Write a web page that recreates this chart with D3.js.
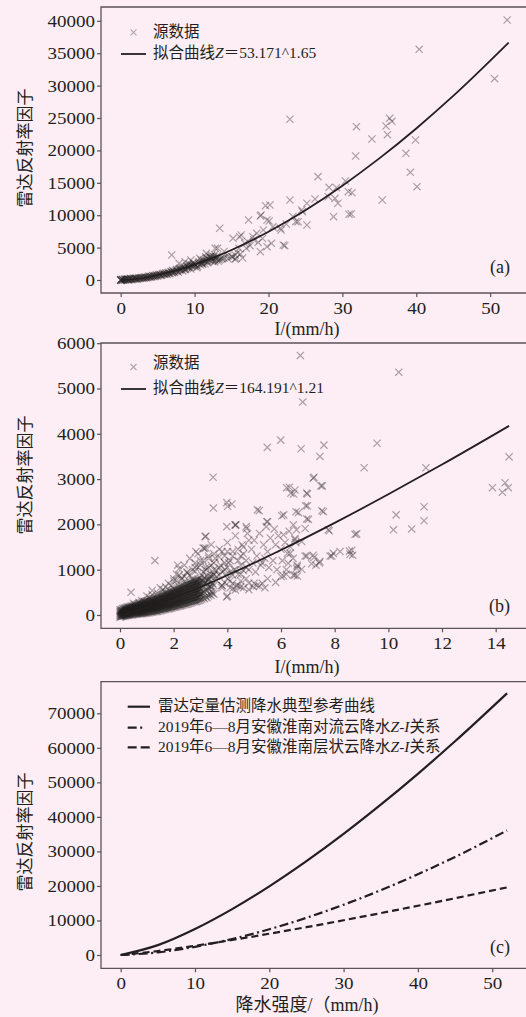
<!DOCTYPE html>
<html>
<head>
<meta charset="utf-8">
<script src="https://cdn.jsdelivr.net/npm/d3@7"></script>
<style>
  body { margin: 0; background: #fdedf4; }
  svg { display: block; }
  text { fill: #231f20; }
  .tick line { stroke: #5b5358; stroke-width: 1.2; }
  .cjk { font-family: "Liberation Serif", "Noto Sans CJK SC", serif; }
</style>
</head>
<body>
<svg id="chart" width="526" height="1017"></svg>
<script>
// ---- panel (a): source data & fitted curve Z = 53.171 I^1.65
const aTicksX = [0, 10, 20, 30, 40, 50];
const aTicksY = [0, 5000, 10000, 15000, 20000, 25000, 30000, 35000, 40000];
const aFitI = [0, 1, 2, 3.5, 5, 7.5, 10, 15, 20, 25, 30, 35, 40, 45, 52.5];
const aFitZ = [0, 53, 167, 420, 757, 1470, 2375, 4637, 7453, 10772, 14558, 18766, 23389, 28403, 36630];
const aPoints = [
  [52.3,40120],[40.4,35600],[50.6,31070],[22.9,24800],[36.4,24950],
  [31.9,23660],[35.9,23770],[36.7,24490],[34.0,21760],[36.1,22430],[39.9,21600],[31.8,19140],[38.6,19550],
  [39.2,16620],[40.1,14400],[35.4,12350],[26.7,15950],[30.4,15280],[29.2,14250],[28.2,14300],[30.8,13630],
  [31.3,13470],[29.0,12600],[29.4,11840],[28.8,9770],[30.9,10140],[31.2,10190],[28.1,12860],
  [26.3,12500],[25.2,11840],[24.5,10800],[22.9,12350],[25.2,8490],[23.7,9000],[22.4,8640],[24.0,9000],[24.6,10540],[23.3,9800],
  [20.2,11570],[19.6,11470],[18.9,9880],[19.8,9260],[17.3,9260],[21.6,7980],[22.0,5400],[22.2,5300],[19.8,5140],
  [18.9,4370],[20.4,5660],[17.0,4890],[20.1,9100],[19.0,10030],[21.7,7720],[20.6,8200],[19.2,6400],[18.6,5800],
  [13.4,7980],[15.2,6430],[16.1,6690],[17.9,6690],[18.4,7200],[19.3,7720],[16.8,5660],[15.5,3860],[15.1,3600],
  [12.8,4890],[11.6,4120],[6.9,3860],[8.7,2830],[10.7,3350],[12.1,3600],[16.3,6940],[17.2,5910],[15.6,3350],
  [13.1,4890],[12.7,3860],[11.5,3600],[10.9,3090],[9.5,3090],[7.9,2570],[14.0,4400],[14.5,3700],[16.0,4900],
  [17.5,5300],[18.0,6200],[13.8,3300],[12.4,2900],[11.0,2600],[9.8,2300],[9.2,1900],
  [0,0],[0,0],[0,0],[0.05,60],[0.1,-100],[0.2,100],[0.3,50],[0.5,-50],[0.5,150],[0.7,60],[0.8,200],[1,20],[1,150],
  [1.2,100],[1.3,250],[1.5,60],[1.6,200],[1.8,300],[2,120],[2,260],[2.2,180],[2.4,350],[2.5,220],[2.7,300],
  [2.9,420],[3,250],[3.1,380],[3.3,500],[3.5,320],[3.6,450],[3.8,600],[4,420],[4.1,560],[4.3,700],[4.5,520],
  [4.6,650],[4.8,800],[5,600],[5.1,760],[5.3,900],[5.5,700],[5.6,850],[5.8,1050],[6,900],[6.1,1100],[6.3,850],
  [6.5,1200],[6.7,1000],[6.8,1300],[7,1100],[7,1500],[7.2,1250],[7.4,1400],[7.6,1650],[7.8,1200],[8,1500],
  [8,1800],[8.2,1700],[8.4,1400],[8.6,2000],[8.8,1650],[9,2200],[9,1800],[9.2,2500],[9.3,2000],[9.5,1700],
  [9.6,2300],[9.8,2700],[10,2100],[10,2400],[10.3,1900],[10.5,2600],[10.8,2300],[11,2800],[11.2,3100],
  [11.4,2500],[11.6,3400],[11.8,2800],[12,3600],[12.1,3000],[12.3,3800],[12.5,3300],[12.7,2800],[13,3500],
  [13.2,2900],[13.5,3200],[14,3400],[14.5,3300],[15,3600],[15.5,3200],[15.8,4200],[16.2,4000],[16.5,3400],
  [0.3,0],[0.6,100],[0.9,80],[1.1,60],[1.4,150],[1.7,120],[1.9,200],[2.1,250],[2.3,150],[2.6,280],[2.8,350],
  [3.2,330],[3.4,400],[3.7,380],[3.9,500],[4.2,480],[4.4,620],[4.7,600],[4.9,700],[5.2,800],[5.4,750],[5.7,950],
  [5.9,850],[6.2,1000],[6.4,1100],[6.6,950],[6.9,1250],[7.1,1350],[7.3,1150],[7.5,1500],[7.7,1400],[7.9,1700],
  [8.1,1600],[8.3,1900],[8.5,1750],[8.7,1600],[8.9,2100],[9.1,2000],[9.4,2300],[9.7,2100],[9.9,2500],[10.2,2300],
  [10.4,2100],[10.6,2800],[10.9,2600],[11.1,2400],[11.3,2900],[11.5,3000],[11.7,2700],[11.9,3200],[12.2,3400],
  [12.4,3100],[12.6,3600],[12.8,3000],[12.9,3300],[13.1,3700],[13.3,3100],[13.6,3400]
];

// ---- panel (b): source data & fitted curve Z = 164.191 I^1.21
const bTicksX = [0, 2, 4, 6, 8, 10, 12, 14];
const bTicksY = [0, 1000, 2000, 3000, 4000, 5000, 6000];
const bFitI = [0, 0.5, 1, 2, 3, 4, 6, 8, 10, 12, 14.5];
const bFitZ = [0, 71, 164, 380, 618, 878, 1435, 2033, 2664, 3320, 4174];
const bPoints = [
  [6.72,5730],[10.39,5360],[6.81,4700],[5.99,3860],[5.49,3700],[6.75,3670],[7.6,3750],[9.58,3790],[7.45,3500],
  [9.1,3250],[11.4,3250],[14.5,3490],[3.47,3040],[7.2,3020],[13.88,2810],[14.25,2710],[14.35,2920],[14.47,2810],
  [6.21,2810],[6.37,2690],[7.49,2850],[6.96,2690],[6.92,2410],[3.48,2360],[3.98,2480],[4.17,2450],[5.12,2320],
  [7.52,2300],[6.56,2280],[6.03,2190],[6.1,2210],[6.96,2120],[6.46,1990],[6.9,1910],[7.76,1880],[8.76,1780],
  [10.29,2210],[10.19,1880],[10.87,1900],[11.33,2390],[11.33,2080],[5.47,2060],[4.72,1910],[4.29,1990],[3.98,1950],
  [3.17,1730],[6.09,1770],[6.52,1690],[6.9,1300],[7.2,1320],[7.45,1180],[7.14,1130],[7.89,1300],[8.2,1400],
  [8.55,1410],[8.57,1340],[6.09,860],[6.46,880],[6.58,1030],[6.27,1140],[6.24,1360],[1.3,1200],[0.41,500],
  [4.01,2400],[5.19,2300],[6.31,2820],[6.47,2670],[4.32,1990],[5.5,2060],[3.14,1470],[2.83,1400],[2.15,1100],
  [6.52,2760],[6.98,2670],[7.23,3040],[7.54,2850],[6.65,2260],[6.98,2410],[7.02,2110],[7.58,2280],[6.58,1880],
  [7.8,1860],[8.82,1790],[6.52,1660],[6.77,1620],[6.34,1360],[6.96,1300],[7.23,1270],[7.43,1150],[7.3,1100],
  [7.83,1300],[7.95,1360],[8.64,1430],[8.67,1320],[6.61,1070],[6.77,1010],[6.52,880],[6.61,860],
  [2.0,750],[2.1,900],[2.2,1020],[2.3,820],[2.4,1100],[2.5,950],[2.6,1250],[2.7,780],[2.8,1050],[2.9,1350],
  [3.0,1200],[3.05,880],[3.1,1480],[3.2,1050],[3.3,1300],[3.35,720],[3.4,1550],[3.5,1000],[3.55,1250],[3.6,850],
  [3.7,1450],[3.75,1100],[3.8,650],[3.9,1300],[3.95,900],[4.0,1600],[4.05,1150],[4.1,750],[4.2,1400],[4.25,1000],
  [4.3,1750],[4.35,650],[4.4,1200],[4.5,900],[4.55,1550],[4.6,1350],[4.7,1050],[4.75,1800],[4.8,700],[4.9,1450],
  [4.95,1150],[5.0,1650],[5.05,950],[5.1,1300],[5.2,1800],[5.25,1100],[5.3,700],[5.35,1550],[5.4,1250],[5.45,1950],
  [5.5,1400],[5.55,1050],[5.6,1700],[5.7,1200],[5.75,1900],[5.8,1550],[5.85,1000],[5.9,1750],[6.0,1450],[6.05,1200],
  [6.15,1600],[6.2,1000],[6.3,1850],[6.35,1500],[6.45,1250],[6.55,1600],[6.6,1100],
  [3.0,450],[3.4,520],[3.8,600],[4.0,420],[4.2,580],[4.5,620],[4.8,560],[5.0,700],[5.2,640],[5.5,800],[5.8,720],
  [6.0,850],[6.2,900],[4.97,625],[3.98,400],
  [0.5,260],[0.7,280],[0.8,320],[0.9,300],[1.0,420],[1.1,380],[1.2,450],[1.2,540],[1.4,480],[1.5,600],[1.6,560],
  [1.7,620],[1.8,700],[1.9,650],[2.0,800],[2.1,760],[2.2,880],[2.3,790],[2.4,850],[2.5,930],[2.6,880],[2.7,1000],
  [2.8,960],[2.8,1150],[2.9,1050],[3.0,1100],[3.1,950],[3.1,1200],[3.2,1000],[3.2,1480],[3.2,1740],[3.3,1050],
  [3.3,1250],[3.4,850],[3.4,1100],[3.5,1150],[3.5,1350],[3.6,980],[3.7,1050],[3.7,1280],[3.8,950],[3.8,1400],
  [3.9,1000],[3.9,1150],[4.0,1050],[4.0,1400],[4.1,950],[4.1,1200],[4.2,880],[4.2,1300],[4.3,1000],[4.3,1980],
  [4.4,900],[4.4,1450],[4.5,1100],[4.5,1300],[4.6,980],[4.6,1500],[4.7,1200],[4.7,1950],[4.8,1000],[4.8,1650],
  [3.1,740],[3.2,770],[3.3,800],[3.4,640],[3.5,900],[3.6,760],[3.7,880],[3.8,650],[3.9,720],[4.0,800],[4.1,600],
  [4.2,700],[4.3,550],[4.4,650],[4.5,750],[4.6,600],[4.7,800],[5.1,650],[5.3,1150],[5.4,600]
];
// dense core of panel (b): for each I column, the Z values of the piled-up crosses
const bCoreI = [0, 0.05, 0.1, 0.15, 0.2, 0.25, 0.3, 0.35, 0.4, 0.45, 0.5, 0.55, 0.6, 0.65, 0.7, 0.75, 0.8, 0.85,
  0.9, 0.95, 1, 1.05, 1.1, 1.15, 1.2, 1.25, 1.3, 1.35, 1.4, 1.45, 1.5, 1.55, 1.6, 1.65, 1.7, 1.75, 1.8, 1.85,
  1.9, 1.95, 2, 2.05, 2.1, 2.15, 2.2, 2.25, 2.3, 2.35, 2.4, 2.45, 2.5, 2.55, 2.6, 2.65, 2.7, 2.75, 2.8, 2.85,
  2.9, 2.95, 3];
const bCoreZ = [
  [-50,-10,30,70,110],[-40,0,40,80,120],[-30,10,50,90,140],[-20,20,60,100,150],[-20,30,70,120,160],
  [-10,30,80,120,170],[-10,40,80,130,180],[0,40,90,140,180],[0,50,100,140,190],[0,50,100,150,200],
  [10,60,110,160,210],[10,60,110,170,220],[20,70,120,170,230],[20,70,130,180,240],[20,80,130,190,250],
  [30,80,140,200,260],[30,90,150,210,270],[30,90,150,220,280],[40,100,160,220,290],[40,100,170,230,300],
  [40,110,170,240,310],[50,110,180,250,320],[50,120,190,260,330],[60,130,200,270,340],[60,130,200,280,350],
  [70,140,210,290,360],[70,150,220,300,370],[80,150,230,310,390],[80,160,240,320,400],[90,170,250,330,410],
  [100,180,260,340,430],[100,180,270,350,440],[110,190,280,360,450],[120,200,290,370,460],[120,210,300,390,480],
  [130,220,310,400,490],[140,230,320,410,500],[140,240,330,420,520],[150,240,340,430,530],[160,250,350,450,540],
  [170,260,360,460,560],[170,270,370,470,570],[180,280,380,480,580],[190,290,390,490,590],[200,300,400,510,610],
  [200,310,410,520,620],[210,320,420,530,640],[220,330,430,540,650],[230,340,440,560,660],[230,350,450,570,670],
  [240,360,460,580,690],[250,370,480,590,700],[260,380,490,600,710],[270,390,500,610,720],[280,400,510,630,740],
  [290,410,520,640,750],[300,420,540,650,760],[300,430,550,660,770],[310,440,560,670,790],[320,450,570,690,800],
  [330,460,580,700,810]
];
// second pass of the core, read between the columns above, and its fading right edge
const bCore2I = [0.025, 0.075, 0.125, 0.175, 0.225, 0.275, 0.325, 0.375, 0.425, 0.475, 0.525, 0.575, 0.625,
  0.675, 0.725, 0.775, 0.825, 0.875, 0.925, 0.975, 1.025, 1.075, 1.125, 1.175, 1.225, 1.275, 1.325, 1.375,
  1.425, 1.475, 1.525, 1.575, 1.625, 1.675, 1.725, 1.775, 1.825, 1.875, 1.925, 1.975, 2.025, 2.075, 2.125,
  2.175, 2.225, 2.275, 2.325, 2.375, 2.425, 2.475, 2.525, 2.575, 2.625, 2.675, 2.725, 2.775, 2.825, 2.875,
  2.925, 2.975, 3.05, 3.1, 3.15, 3.2, 3.25, 3.3, 3.35, 3.4, 3.45, 3.5];
const bCore2Z = [
  [-30,10,50,90],[-25,15,60,100],[-15,25,65,110],[-5,35,75,125],[5,40,95,140],[5,55,100,150],[15,60,105,155],
  [20,65,115,160],[25,75,120,170],[30,80,125,175],[35,85,135,185],[40,90,140,195],[45,95,150,200],[50,100,155,210],
  [55,105,160,220],[60,115,170,230],[60,120,180,240],[65,125,185,250],[70,130,190,255],[75,135,200,265],
  [80,145,210,275],[85,150,215,285],[90,160,225,295],[95,165,235,305],[100,170,240,315],[105,180,255,325],
  [110,185,265,335],[115,195,270,350],[125,205,280,360],[135,215,295,370],[140,225,305,385],[145,235,315,395],
  [150,245,325,405],[160,255,345,420],[165,265,355,435],[175,275,365,445],[185,285,375,460],[190,290,385,475],
  [195,295,395,485],[205,305,405,500],[215,315,420,510],[225,325,425,525],[235,335,435,535],[240,345,450,550],
  [250,355,465,565],[255,365,475,580],[265,375,485,590],[275,385,500,600],[280,395,505,615],[290,405,520,630],
  [300,415,530,645],[310,425,545,655],[320,435,555,665],[330,445,570,680],[340,455,575,690],[350,470,585,700],
  [360,480,600,715],[370,495,610,725],[380,500,620,735],[390,510,635,750],
  [350,480,620,760],[380,520,660],[360,500,700,820],[400,560,720],[380,540,680,860],[420,600,780],
  [450,640,850],[430,600,900],[480,700],[460,650,880]
];

// ---- panel (c): Z-I relations
const cTicksX = [0, 10, 20, 30, 40, 50];
const cTicksY = [0, 10000, 20000, 30000, 40000, 50000, 60000, 70000];
const cI = [0, 5, 10, 15, 20, 25, 30, 35, 40, 45, 52];
const cRef = [0, 2856, 7536, 13290, 19890, 27180, 35070, 43530, 52470, 61890, 75790];
const cConv = [0, 757, 2375, 4637, 7453, 10772, 14558, 18766, 23389, 28403, 36070];
const cStrat = [0, 1151, 2664, 4350, 6161, 8069, 10065, 12127, 14252, 16436, 19574];

const svg = d3.select('#chart');
const serif = '"Liberation Serif", "Times New Roman", serif';
const crossPath = s => `M${-s},${-s}L${s},${s}M${-s},${s}L${s},${-s}`;

function drawPanel(p) {
  const x = d3.scaleLinear().domain(p.xDomain).range([101, 526]);
  const y = d3.scaleLinear().domain(p.yDomain).range([p.bottom, p.top]);
  const g = svg.append('g');

  // scatter: translucent dark crosses, they turn black where they pile up
  if (p.points) {
    g.append('g').selectAll('path')
      .data(p.points)
      .join('path')
      .attr('transform', d => `translate(${x(d[0])},${y(d[1])})`)
      .attr('d', crossPath(3.6))
      .attr('fill', 'none')
      .attr('stroke', '#231f20')
      .attr('stroke-opacity', 0.38)
      .attr('stroke-width', 1.2);
  }

  // lines
  p.lines.forEach(l => {
    const line = d3.line().x(d => x(d[0])).y(d => y(d[1])).curve(d3.curveMonotoneX);
    g.append('path')
      .attr('d', line(d3.zip(l.xs, l.ys)))
      .attr('fill', 'none')
      .attr('stroke', '#231f20')
      .attr('stroke-width', l.width || 1.8)
      .attr('stroke-dasharray', l.dash || null);
  });

  // frame: top, left, bottom
  g.append('path')
    .attr('d', `M540,${p.top}H101V${p.bottom}H540`)
    .attr('fill', 'none')
    .attr('stroke', '#5b5358')
    .attr('stroke-width', 1.3);

  const yAxis = g.append('g')
    .attr('transform', 'translate(101,0)')
    .call(d3.axisLeft(y).tickValues(p.yTicks).tickSize(4).tickPadding(2).tickFormat(d3.format('d')));
  const xAxis = g.append('g')
    .attr('transform', `translate(0,${p.bottom})`)
    .call(d3.axisBottom(x).tickValues(p.xTicks).tickSize(4).tickPadding(5).tickFormat(d3.format('d')));
  [yAxis, xAxis].forEach(ax => {
    ax.select('.domain').remove();
    ax.attr('font-family', serif).attr('font-size', 17);
    // the figure's digits are set wide: ~9.6px per digit
    ax.selectAll('.tick text')
      .attr('fill', '#231f20')
      .attr('textLength', d => String(d).length * 9.5)
      .attr('lengthAdjust', 'spacingAndGlyphs');
  });

  // y label
  g.append('text')
    .attr('class', 'cjk')
    .attr('transform', `translate(31,${p.yLabelY}) rotate(-90)`)
    .attr('text-anchor', 'middle')
    .style('font-size', '17px')
    .attr('fill', '#3b3537')
    .text('雷达反射率因子');

  // x label
  g.append('text')
    .attr('class', 'cjk')
    .attr('x', 307)
    .attr('y', p.xLabelY)
    .attr('text-anchor', 'middle')
    .style('font-size', '18px')
    .text(p.xLabel);

  // panel tag
  g.append('text')
    .attr('x', 510)
    .attr('y', p.tagY)
    .attr('text-anchor', 'end')
    .style('font-family', serif)
    .style('font-size', '18px')
    .text(p.tag);

  return g;
}

function legendText(g, xPos, yPos, parts) {
  const t = g.append('text')
    .attr('class', 'cjk')
    .attr('x', xPos)
    .attr('y', yPos)
    .attr('dy', '0.35em')
    .style('font-size', '15.5px');
  parts.forEach(s => {
    t.append('tspan').style('font-style', s.italic ? 'italic' : 'normal').text(s.t);
  });
}

function scatterLegend(g, yCross, yText, yLine, formula) {
  g.append('path')
    .attr('transform', `translate(133.5,${yCross})`)
    .attr('d', crossPath(3))
    .attr('stroke', '#aca7aa')
    .attr('stroke-width', 1.1);
  legendText(g, 153, yText, [{t: '源数据'}]);
  g.append('line')
    .attr('x1', 121).attr('x2', 146).attr('y1', yLine).attr('y2', yLine)
    .attr('stroke', '#231f20').attr('stroke-width', 1.8);
  legendText(g, 153, yLine - 1, [{t: '拟合曲线'}, {t: 'Z', italic: true}, {t: '＝' + formula}]);
}

const columns = (xs, zs) => [].concat(...xs.map((v, i) => zs[i].map(z => [v, z])));

// (a)
const gA = drawPanel({
  xDomain: [-2.666, 54.85], yDomain: [-2006, 42130], top: 7, bottom: 293,
  xTicks: aTicksX, yTicks: aTicksY, points: aPoints,
  lines: [{xs: aFitI, ys: aFitZ}],
  yLabelY: 148, xLabelY: 335, xLabel: 'I/(mm/h)', tag: '(a)', tagY: 273
});
scatterLegend(gA, 32.3, 32, 54, '53.171^1.65');

// (b): sparse points plus the dense core columns
const bAll = bPoints.concat(columns(bCoreI, bCoreZ), columns(bCore2I, bCore2Z));
const gB = drawPanel({
  xDomain: [-0.708, 15.13], yDomain: [-294, 6004], top: 343, bottom: 628.3,
  xTicks: bTicksX, yTicks: bTicksY, points: bAll,
  lines: [{xs: bFitI, ys: bFitZ}],
  yLabelY: 475, xLabelY: 673, xLabel: 'I/(mm/h)', tag: '(b)', tagY: 612
});
scatterLegend(gB, 367, 363, 389, '164.191^1.21');

// (c)
const gC = drawPanel({
  xDomain: [-2.65, 54.55], yDomain: [-3850, 79150], top: 681.7, bottom: 968.3,
  xTicks: cTicksX, yTicks: cTicksY,
  lines: [
    {xs: cI, ys: cRef, width: 2.2},
    {xs: cI, ys: cConv, width: 2.2, dash: '9,3.5,2,3.5'},
    {xs: cI, ys: cStrat, width: 2.2, dash: '7,4'}
  ],
  yLabelY: 832, xLabelY: 1011, xLabel: '降水强度/（mm/h)', tag: '(c)', tagY: 953
});
const cLegend = [
  {y: 706.7, dash: null, parts: [{t: '雷达定量估测降水典型参考曲线'}]},
  {y: 727.7, dash: '9,3.5,2,20', parts: [{t: '2019年6—8月安徽淮南对流云降水'}, {t: 'Z-I', italic: true}, {t: '关系'}]},
  {y: 747.3, dash: '9,4,9,20', parts: [{t: '2019年6—8月安徽淮南层状云降水'}, {t: 'Z-I', italic: true}, {t: '关系'}]}
];
cLegend.forEach(d => {
  gC.append('line')
    .attr('x1', 127.7).attr('x2', 150).attr('y1', d.y).attr('y2', d.y)
    .attr('stroke', '#231f20').attr('stroke-width', 2.2)
    .attr('stroke-dasharray', d.dash);
  legendText(gC, 158, d.y - 1, d.parts);
});
</script>
</body>
</html>
